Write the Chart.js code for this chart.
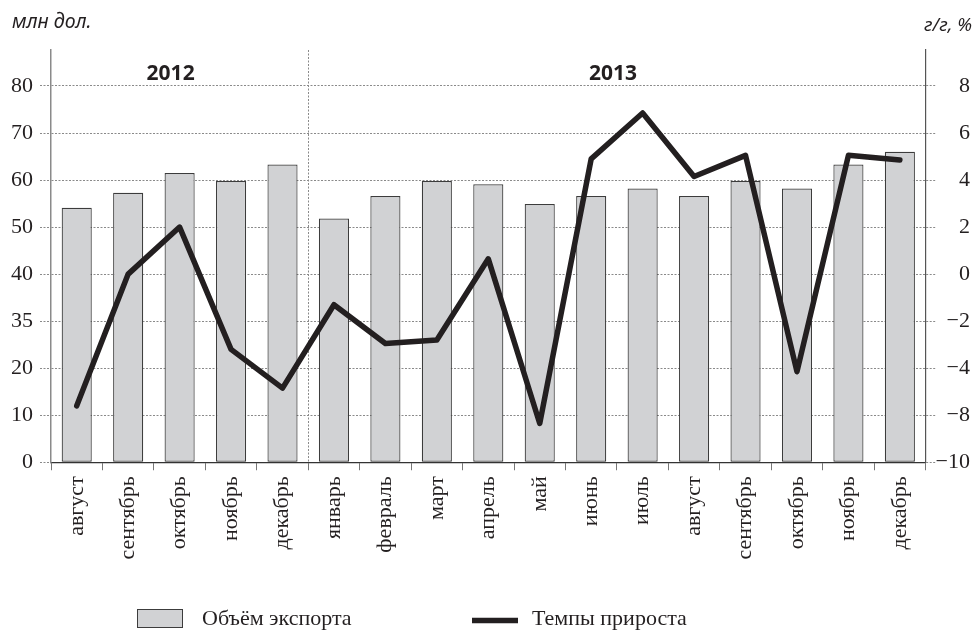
<!DOCTYPE html>
<html lang="ru">
<head>
<meta charset="utf-8">
<script src="https://cdn.jsdelivr.net/npm/chart.js@4.4.1/dist/chart.umd.min.js"></script>
<style>
    html, body { margin: 0; padding: 0; background: #fff; }
    #wrap { width: 975px; height: 632px; position: relative; }
</style>
</head>
<body>
<div id="wrap"><canvas id="exportChart"></canvas></div>
<script>
// Data
const months = ['август', 'сентябрь', 'октябрь', 'ноябрь', 'декабрь',
    'январь', 'февраль', 'март', 'апрель', 'май', 'июнь', 'июль',
    'август', 'сентябрь', 'октябрь', 'ноябрь', 'декабрь'];
const years = ['2012', '2013'];
const yearSplit = 5; // first month of 2013

// млн дол. (left axis)
const exportVolume = [54.1, 57.3, 61.5, 59.8, 63.3, 51.8, 56.6, 59.8, 59.1,
    54.9, 56.6, 58.2, 56.6, 59.8, 58.2, 63.3, 66.0];
// г/г, % (right axis, read on its gridlines)
const growthRate = [-5.6, 0.0, 2.0, -3.2, -4.85, -1.3, -2.95, -2.8, 0.65,
    -6.35, 4.9, 6.85, 4.15, 5.05, -4.15, 5.05, 4.85];

// tick labels exactly as printed on the picture
const leftTickValues = [0, 10, 20, 30, 40, 50, 60, 70, 80];
const leftTickLabels = ['0', '10', '20', '35', '40', '50', '60', '70', '80'];
const rightTickValues = [-8, -6, -4, -2, 0, 2, 4, 6, 8];
const rightTickLabels = ['\u221210', '\u22128', '\u22124', '\u22122', '0', '2', '4', '6', '8'];

const seriesNames = ['Объём экспорта', 'Темпы прироста'];
const leftUnit = 'млн дол.';
const rightUnit = 'г/г, %';

const SERIF = '"Liberation Serif", "DejaVu Serif", serif';
const SANS = '"Noto Sans", "Open Sans", sans-serif';
const INK = '#231f20';
const BAR_FILL = '#d1d2d4';
const BAR_EDGE = '#3c3c3c';
const GRID = '#8a8a8a';

// titles, year captions and legend
const annotations = {
    id: 'annotations',
    afterDraw(chart) {
        const ctx = chart.ctx;
        const area = chart.chartArea;
        const xs = chart.scales.x;
        const step = xs.getPixelForValue(1) - xs.getPixelForValue(0);
        const split = xs.getPixelForValue(yearSplit) - step / 2;

        ctx.save();
        ctx.fillStyle = INK;
        ctx.textBaseline = 'alphabetic';

        ctx.font = 'italic 19.5px ' + SANS;
        ctx.textAlign = 'left';
        ctx.fillText(leftUnit, 12, 28);
        ctx.font = 'italic 18.5px ' + SANS;
        ctx.textAlign = 'right';
        ctx.fillText(rightUnit, 972, 31);

        ctx.font = 'bold 21px ' + SANS;
        ctx.textAlign = 'center';
        ctx.fillText(years[0], (area.left + split) / 2 - 9, 80);
        ctx.fillText(years[1], (split + area.right) / 2 - 4, 80);

        // legend
        ctx.fillStyle = BAR_FILL;
        ctx.fillRect(137.5, 609.5, 45, 18);
        ctx.strokeStyle = BAR_EDGE;
        ctx.lineWidth = 1;
        ctx.strokeRect(137.5, 609.5, 45, 18);

        ctx.strokeStyle = INK;
        ctx.lineWidth = 5.5;
        ctx.beginPath();
        ctx.moveTo(472, 620.5);
        ctx.lineTo(518, 620.5);
        ctx.stroke();

        ctx.fillStyle = INK;
        ctx.font = '22px ' + SERIF;
        ctx.textAlign = 'left';
        ctx.fillText(seriesNames[0], 202, 625);
        ctx.fillText(seriesNames[1], 532, 625);
        ctx.restore();
    }
};

const ctx = document.getElementById('exportChart').getContext('2d');

const exportChart = new Chart(ctx, {
    type: 'bar',
    data: {
        labels: months,
        datasets: [
            {
                type: 'line',
                label: seriesNames[1],
                data: growthRate,
                yAxisID: 'y1',
                borderColor: INK,
                borderWidth: 5.5,
                borderCapStyle: 'round',
                borderJoinStyle: 'round',
                pointRadius: 0,
                tension: 0,
                fill: false,
                order: 0
            },
            {
                label: seriesNames[0],
                data: exportVolume,
                yAxisID: 'y',
                backgroundColor: BAR_FILL,
                borderColor: BAR_EDGE,
                borderWidth: 1.2,
                borderSkipped: false,
                barPercentage: 0.585,
                categoryPercentage: 1.0,
                order: 1
            }
        ]
    },
    options: {
        responsive: true,
        maintainAspectRatio: false,
        animation: false,
        layout: {
            padding: { left: 4, right: 5, top: 50, bottom: 66.5 }
        },
        plugins: {
            legend: { display: false },
            tooltip: { enabled: false }
        },
        scales: {
            x: {
                offset: true,
                grid: {
                    offset: true,
                    drawOnChartArea: true,
                    color: function(c) {
                        return c.index === yearSplit ? GRID : 'rgba(0,0,0,0)';
                    },
                    lineWidth: 1,
                    tickLength: 8,
                    tickColor: '#777',
                    tickWidth: 1
                },
                border: { display: true, color: '#333', width: 1.2, dash: [2, 1.5] },
                ticks: {
                    autoSkip: false,
                    maxRotation: 90,
                    minRotation: 90,
                    padding: 6,
                    color: INK,
                    font: { family: SERIF, size: 22 }
                }
            },
            y: {
                position: 'left',
                min: 0,
                max: 87.65,
                afterBuildTicks: function(scale) {
                    scale.ticks = leftTickValues.map(v => ({ value: v }));
                },
                grid: {
                    color: GRID,
                    lineWidth: 1,
                    tickLength: 11,
                    tickColor: GRID,
                    tickBorderDash: [2, 1.5]
                },
                border: { display: true, color: '#8a8a8a', width: 1.5, dash: [2, 1.5] },
                ticks: {
                    padding: 7,
                    color: INK,
                    font: { family: SERIF, size: 22 },
                    callback: function(value, index) {
                        return leftTickLabels[index];
                    }
                }
            },
            y1: {
                position: 'right',
                min: -8,
                max: 9.53,
                afterBuildTicks: function(scale) {
                    scale.ticks = rightTickValues.map(v => ({ value: v }));
                },
                grid: {
                    drawOnChartArea: false,
                    tickLength: 10,
                    tickColor: GRID,
                    tickBorderDash: [2, 1.5]
                },
                border: { display: true, color: '#555', width: 1.2 },
                ticks: {
                    padding: 0,
                    crossAlign: 'far',
                    color: INK,
                    font: { family: SERIF, size: 22 },
                    callback: function(value, index) {
                        return rightTickLabels[index];
                    }
                }
            }
        }
    },
    plugins: [annotations]
});
</script>
</body>
</html>
